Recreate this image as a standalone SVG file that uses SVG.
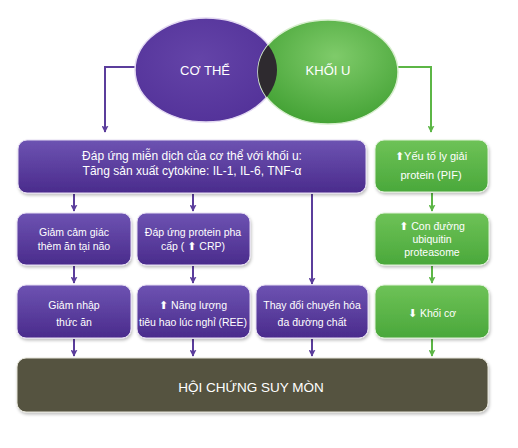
<svg xmlns="http://www.w3.org/2000/svg" width="518" height="448" viewBox="0 0 518 448">
<defs>
  <linearGradient id="gp" x1="0" y1="0" x2="0" y2="1">
    <stop offset="0" stop-color="#6d53b2"/>
    <stop offset="1" stop-color="#4a2b8c"/>
  </linearGradient>
  <linearGradient id="gg" x1="0" y1="0" x2="0" y2="1">
    <stop offset="0" stop-color="#6ec257"/>
    <stop offset="1" stop-color="#4aa83b"/>
  </linearGradient>
  <radialGradient id="ep" cx="0.45" cy="0.4" r="0.6">
    <stop offset="0" stop-color="#6444a8"/>
    <stop offset="1" stop-color="#54339a"/>
  </radialGradient>
  <radialGradient id="eg" cx="0.55" cy="0.35" r="0.65">
    <stop offset="0" stop-color="#7fcb6a"/>
    <stop offset="1" stop-color="#45a336"/>
  </radialGradient>
  <clipPath id="clipP"><ellipse cx="206" cy="70" rx="71" ry="52"/></clipPath>
  <filter id="sh" x="-10%" y="-10%" width="120%" height="130%">
    <feDropShadow dx="1" dy="2" stdDeviation="1.5" flood-color="#000" flood-opacity="0.25"/>
  </filter>
  <marker id="ap" viewBox="0 0 10 10" refX="9" refY="5" markerWidth="7" markerHeight="7" markerUnits="userSpaceOnUse" orient="auto">
    <path d="M0,0 L10,5 L0,10 L2,5 Z" fill="#5b3d9c"/>
  </marker>
  <marker id="ag" viewBox="0 0 10 10" refX="9" refY="5" markerWidth="7" markerHeight="7" markerUnits="userSpaceOnUse" orient="auto">
    <path d="M0,0 L10,5 L0,10 L2,5 Z" fill="#5cb646"/>
  </marker>
  <style>
    .t{font-family:"Liberation Sans",Arial,"DejaVu Sans",sans-serif;fill:#ffffff;text-anchor:middle}
    .s{font-size:10.5px}
    .m{font-size:12px}
    .ar{font-family:"DejaVu Sans",sans-serif;font-size:11px}
    .cp{stroke:#5b3d9c;stroke-width:2;fill:none;marker-end:url(#ap)}
    .cg{stroke:#5cb646;stroke-width:2;fill:none;marker-end:url(#ag)}
    .bp{fill:url(#gp);stroke:#e6ddf3;stroke-width:1;filter:url(#sh)}
    .bg{fill:url(#gg);stroke:#dff1d8;stroke-width:1;filter:url(#sh)}
  </style>
</defs>
<rect width="518" height="448" fill="#ffffff"/>

<g id="connectors">
  <path class="cp" d="M136,67 H105 V132"/>
  <path class="cg" d="M397,67 H431 V132"/>
  <path class="cp" d="M74,194 V211"/>
  <path class="cp" d="M193,194 V211"/>
  <path class="cp" d="M312,194 V284"/>
  <path class="cg" d="M432,193 V211"/>
  <path class="cp" d="M74,266 V283"/>
  <path class="cp" d="M193,266 V283"/>
  <path class="cg" d="M432,266 V283"/>
  <path class="cp" d="M74,339 V356"/>
  <path class="cp" d="M193,339 V356"/>
  <path class="cp" d="M312,339 V356"/>
  <path class="cg" d="M432,339 V356"/>
</g>

<g id="co-the">
  <ellipse cx="206" cy="70" rx="71" ry="52" fill="url(#ep)" stroke="#e3d9f2" stroke-width="1.5"/>
</g>
<g id="khoi-u">
  <ellipse cx="328" cy="72" rx="70" ry="52" fill="url(#eg)" stroke="#d7eecd" stroke-width="1.5"/>
  <ellipse cx="328" cy="72" rx="70" ry="52" fill="#2e2a2f" clip-path="url(#clipP)"/>
  <text class="t" x="205" y="75" font-size="13">CƠ THỂ</text>
  <text class="t" x="328" y="75" font-size="13">KHỐI U</text>
</g>

<g id="dap-ung">
  <rect class="bp" x="18" y="140" width="348" height="53" rx="9"/>
  <text class="t m" x="192" y="160">Đáp ứng miễn dịch của cơ thể với khối u:</text>
  <text class="t m" x="192" y="175">Tăng sản xuất cytokine: IL-1, IL-6, TNF-α</text>
</g>
<g id="pif">
  <rect class="bg" x="375" y="140" width="113" height="52" rx="9"/>
  <text class="t" x="431" y="160" font-size="11"><tspan class="ar">⬆</tspan>Yếu tố ly giải</text>
  <text class="t" x="431" y="179" font-size="11">protein (PIF)</text>
</g>

<g id="giam-cam-giac">
  <rect class="bp" x="17" y="213" width="114" height="52" rx="9"/>
  <text class="t s" x="74" y="236">Giảm cảm giác</text>
  <text class="t s" x="74" y="250">thèm ăn tại não</text>
</g>
<g id="crp">
  <rect class="bp" x="137" y="213" width="113" height="52" rx="9"/>
  <text class="t s" x="193" y="236">Đáp ứng protein pha</text>
  <text class="t s" x="193" y="250">cấp ( <tspan class="ar">⬆</tspan> CRP)</text>
</g>
<g id="ubiquitin">
  <rect class="bg" x="375" y="213" width="114" height="52" rx="9"/>
  <text class="t s" x="432" y="230"><tspan class="ar">⬆</tspan> Con đường</text>
  <text class="t s" x="432" y="243">ubiquitin</text>
  <text class="t s" x="432" y="256">proteasome</text>
</g>

<g id="giam-nhap">
  <rect class="bp" x="17" y="285" width="114" height="53" rx="9"/>
  <text class="t s" x="74" y="309">Giảm nhập</text>
  <text class="t s" x="74" y="326">thức ăn</text>
</g>
<g id="ree">
  <rect class="bp" x="137" y="285" width="113" height="53" rx="9"/>
  <text class="t s" x="193" y="309"><tspan class="ar">⬆</tspan> Năng lượng</text>
  <text class="t s" x="193" y="326">tiêu hao lúc nghỉ (REE)</text>
</g>
<g id="chuyen-hoa">
  <rect class="bp" x="256" y="285" width="112" height="53" rx="9"/>
  <text class="t s" x="312" y="309">Thay đổi chuyển hóa</text>
  <text class="t s" x="312" y="326">đa đường chất</text>
</g>
<g id="khoi-co">
  <rect class="bg" x="375" y="285" width="114" height="53" rx="9"/>
  <text class="t s" x="432" y="317"><tspan class="ar">⬇</tspan> Khối cơ</text>
</g>

<g id="suy-mon">
  <rect x="17" y="358" width="471" height="54" rx="9" fill="#55533f" stroke="#e4e3d8" stroke-width="1" filter="url(#sh)"/>
  <text class="t" x="251" y="392" font-size="13.5">HỘI CHỨNG SUY MÒN</text>
</g>
</svg>
